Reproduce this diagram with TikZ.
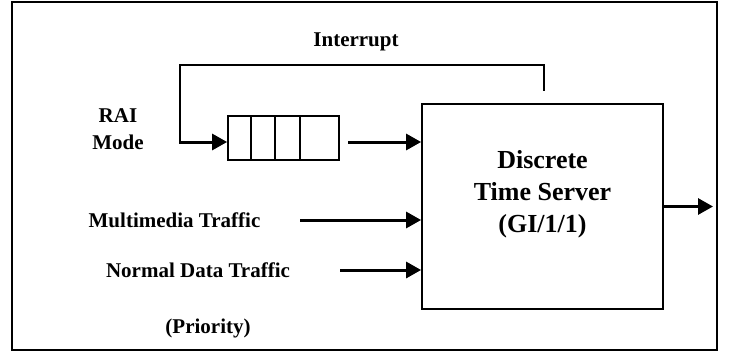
\documentclass[tikz,border=0pt]{standalone}
\usepackage{fontspec}
\setmainfont{Liberation Serif}
\usetikzlibrary{arrows.meta,positioning}

\begin{document}
\begin{tikzpicture}[
  x=1pt,y=-1pt,
  server/.style={draw,line width=1.8pt,minimum width=241pt,minimum height=205pt,inner sep=0pt},
  queue/.style={draw,line width=1.8pt,minimum width=111pt,minimum height=44pt,inner sep=0pt},
  lbl/.style={font=\bfseries\fontsize{21}{27}\selectfont,align=center,inner sep=0pt},
  srvlbl/.style={font=\bfseries\fontsize{26}{32}\selectfont,align=center,inner sep=0pt},
  line/.style={line width=1.8pt},
  arrow/.style={-{Triangle[length=15pt,width=16pt]},line width=3pt}
]
\useasboundingbox (0,0) rectangle (734,353);
\draw[line width=2pt] (12,2) rectangle (717,350);

% server and queue
\node[server] (server) at (542.5,206.5) {};
\node[srvlbl,anchor=base] (srvtxt) at (542.5,232) {Discrete\\Time Server\\(GI/1/1)};
\node[queue] (queue) at (283.5,138) {};
\foreach \dx in {24,48,73}
  \draw[line] ([xshift=\dx pt]queue.north west) -- ([xshift=\dx pt]queue.south west);

% labels
\node[lbl,anchor=base] (interrupt) at (356,47) {Interrupt};
\node[lbl,anchor=base] (rai) at (118,149) {RAI\\Mode};
\node[lbl,anchor=base] (mmtxt) at (174.5,227) {Multimedia Traffic};
\node[lbl,anchor=base] (ndtxt) at (198,277) {Normal Data Traffic};
\node[lbl,anchor=base] (prio) at (208,333) {(Priority)};

% free ends
\coordinate (fbstart) at (544,91);
\coordinate (fbtop) at (180,65);
\coordinate (fbcorner) at (180,142);
\coordinate (qout) at (348,142);
\coordinate (mmstart) at (300,220);
\coordinate (ndstart) at (340,270);
\coordinate (outend) at (713,207);

% connectors
\draw[line] (fbstart) |- (fbtop) -- (fbcorner);
\draw[arrow] ([xshift=-0.9pt]fbcorner) -- (fbcorner -| queue.west);
\draw[arrow] (qout) -- (qout -| server.west);
\draw[arrow] (mmstart) -- (mmstart -| server.west);
\draw[arrow] (ndstart) -- (ndstart -| server.west);
\draw[arrow] (server.east) -- (outend |- server.east);
\end{tikzpicture}
\end{document}
